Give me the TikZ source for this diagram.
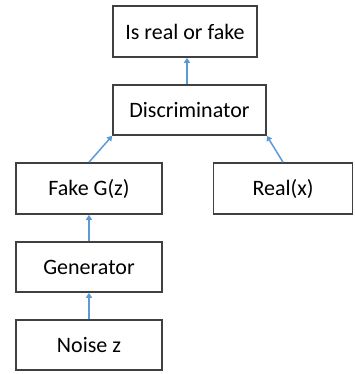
\documentclass[tikz,border=0pt]{standalone}
\usepackage{fontspec}
\setmainfont{Carlito}
\usetikzlibrary{arrows.meta}
\definecolor{boxline}{HTML}{404040}
\definecolor{arrowblue}{HTML}{5B9BD5}
\begin{document}
\begin{tikzpicture}[x=1pt,y=-1pt,
  box/.style={draw=boxline,line width=1.6pt,fill=white,inner sep=0pt,
    font=\fontsize{22}{26}\selectfont},
  arr/.style={draw=arrowblue,line width=1.5pt,-{Triangle[length=5pt,width=6pt]}}]
\useasboundingbox (0,0) rectangle (355,374);
\node[box,minimum width=144pt,minimum height=51pt] (out) at (185,31.5) {Is real or fake};
\node[box,minimum width=153pt,minimum height=50pt] (disc) at (189.5,110) {Discriminator};
\node[box,minimum width=146pt,minimum height=51pt] (fake) at (89,188.5) {Fake G(z)};
\node[box,minimum width=139pt,minimum height=51pt] (real) at (283,188.5) {Real(x)};
\node[box,minimum width=146pt,minimum height=50pt] (gen) at (89,267) {Generator};
\node[box,minimum width=146pt,minimum height=50pt] (noise) at (89,345) {Noise z};
\draw[arr] (disc.north -| 187,0) -- (out.south -| 187,0);
\draw[arr] (fake.north) -- (disc.south west);
\draw[arr] (real.north) -- (disc.south east);
\draw[arr] (noise.north) -- (gen.south);
\draw[arr] (gen.north) -- (fake.south);
\end{tikzpicture}
\end{document}
